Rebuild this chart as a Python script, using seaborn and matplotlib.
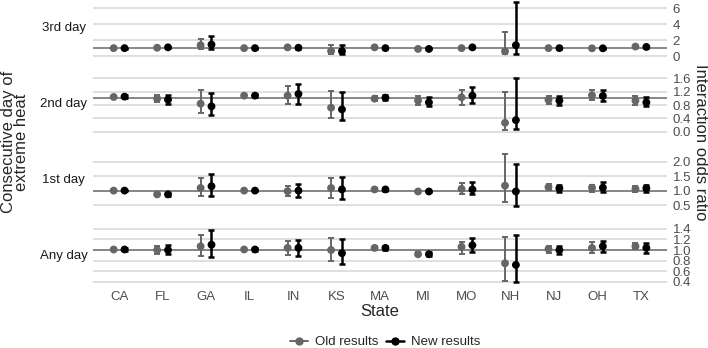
import matplotlib
matplotlib.use("Agg")
import matplotlib.pyplot as plt
from matplotlib.lines import Line2D
import numpy as np
import pandas as pd
import seaborn as sns

states = ["CA", "FL", "GA", "IL", "IN", "KS", "MA", "MI", "MO", "NH", "NJ", "OH", "TX"]
days = ["3rd day", "2nd day", "1st day", "Any day"]

# 3rd day
old_3rd = [1.00, 1.05, 1.37, 1.00, 1.10, 0.64, 1.10, 0.90, 1.00, 0.60, 1.00, 0.98, 1.20]
old_3rd_lo = [0.94, 0.98, 0.95, 0.95, 1.00, 0.30, 1.00, 0.84, 0.90, 0.30, 0.94, 0.92, 1.10]
old_3rd_hi = [1.06, 1.12, 2.20, 1.05, 1.20, 1.37, 1.20, 0.96, 1.10, 3.07, 1.06, 1.04, 1.30]
new_3rd = [1.00, 1.10, 1.45, 1.00, 1.05, 0.62, 1.00, 0.90, 1.10, 1.37, 1.00, 0.98, 1.15]
new_3rd_lo = [0.95, 1.03, 0.85, 0.95, 0.95, 0.25, 0.92, 0.84, 1.00, 0.30, 0.94, 0.92, 1.05]
new_3rd_hi = [1.05, 1.17, 2.50, 1.05, 1.15, 1.35, 1.08, 0.96, 1.20, 6.80, 1.06, 1.04, 1.25]

# 2nd day
old_2nd = [1.04, 0.99, 0.84, 1.08, 1.08, 0.72, 0.99, 0.93, 1.03, 0.27, 0.95, 1.09, 0.93]
old_2nd_lo = [1.00, 0.88, 0.55, 1.04, 0.84, 0.40, 0.93, 0.81, 0.81, 0.05, 0.83, 0.94, 0.81]
old_2nd_hi = [1.08, 1.11, 1.26, 1.12, 1.36, 1.23, 1.06, 1.06, 1.26, 1.19, 1.08, 1.26, 1.06]
new_2nd = [1.05, 0.96, 0.76, 1.08, 1.13, 0.67, 1.02, 0.88, 1.08, 0.35, 0.93, 1.07, 0.88]
new_2nd_lo = [1.01, 0.84, 0.49, 1.04, 0.84, 0.35, 0.94, 0.78, 0.86, 0.08, 0.81, 0.91, 0.78]
new_2nd_hi = [1.09, 1.10, 1.16, 1.12, 1.43, 1.19, 1.10, 1.03, 1.35, 1.60, 1.07, 1.26, 1.03]

# 1st day
old_1st = [1.00, 0.87, 1.09, 1.00, 0.98, 1.09, 1.04, 0.97, 1.06, 1.17, 1.12, 1.10, 1.06]
old_1st_lo = [0.97, 0.84, 0.80, 0.97, 0.80, 0.75, 1.00, 0.94, 0.89, 0.60, 1.02, 0.95, 0.95]
old_1st_hi = [1.03, 0.90, 1.45, 1.03, 1.15, 1.45, 1.08, 1.00, 1.26, 2.25, 1.22, 1.21, 1.17]
new_1st = [1.00, 0.87, 1.15, 1.00, 1.00, 1.04, 1.04, 0.97, 1.04, 0.97, 1.08, 1.10, 1.08]
new_1st_lo = [0.97, 0.83, 0.80, 0.97, 0.77, 0.72, 1.00, 0.94, 0.89, 0.46, 0.95, 0.95, 0.95]
new_1st_hi = [1.03, 0.91, 1.57, 1.03, 1.22, 1.48, 1.08, 1.00, 1.28, 1.91, 1.21, 1.28, 1.20]

# Any day
old_any = [1.01, 1.00, 1.07, 1.01, 1.04, 1.00, 1.04, 0.92, 1.06, 0.75, 1.02, 1.04, 1.07]
old_any_lo = [0.99, 0.93, 0.88, 0.99, 0.91, 0.79, 1.00, 0.88, 0.93, 0.42, 0.95, 0.95, 1.01]
old_any_hi = [1.03, 1.07, 1.29, 1.03, 1.17, 1.23, 1.08, 0.96, 1.15, 1.24, 1.08, 1.15, 1.13]
new_any = [1.01, 1.00, 1.10, 1.01, 1.04, 0.94, 1.04, 0.92, 1.09, 0.72, 1.00, 1.07, 1.04]
new_any_lo = [0.99, 0.92, 0.86, 0.99, 0.89, 0.73, 1.00, 0.88, 0.97, 0.39, 0.93, 0.97, 0.95]
new_any_hi = [1.03, 1.10, 1.37, 1.03, 1.19, 1.20, 1.08, 0.96, 1.22, 1.28, 1.07, 1.17, 1.13]

yticks = {
    "3rd day": [0, 2, 4, 6],
    "2nd day": [0.0, 0.4, 0.8, 1.2, 1.6],
    "1st day": [0.5, 1.0, 1.5, 2.0],
    "Any day": [0.4, 0.6, 0.8, 1.0, 1.2, 1.4],
}
ytick_fmt = {"3rd day": "{:.0f}", "2nd day": "{:.1f}", "1st day": "{:.1f}", "Any day": "{:.1f}"}

series = {
    "3rd day": [(old_3rd, old_3rd_lo, old_3rd_hi), (new_3rd, new_3rd_lo, new_3rd_hi)],
    "2nd day": [(old_2nd, old_2nd_lo, old_2nd_hi), (new_2nd, new_2nd_lo, new_2nd_hi)],
    "1st day": [(old_1st, old_1st_lo, old_1st_hi), (new_1st, new_1st_lo, new_1st_hi)],
    "Any day": [(old_any, old_any_lo, old_any_hi), (new_any, new_any_lo, new_any_hi)],
}
versions = ["Old results", "New results"]
offsets = {"Old results": -0.125, "New results": 0.125}
palette = {"Old results": "#666666", "New results": "#000000"}
lw = {"Old results": 1.4, "New results": 1.8}

rows = []
for day in days:
    for ver, (est, lo, hi) in zip(versions, series[day]):
        for i, st in enumerate(states):
            rows.append(dict(day=day, version=ver, state=st,
                             x=i + offsets[ver], est=est[i], lo=lo[i], hi=hi[i]))
df = pd.DataFrame(rows)

sns.set_theme()
sns.set_style("white")
plt.rcParams["font.family"] = ["Liberation Sans", "DejaVu Sans"]

fig, axes = plt.subplots(4, 1, figsize=(7.08, 3.48), dpi=100, sharex=True)
fig.subplots_adjust(left=93 / 708, right=667 / 708, top=1.0015, bottom=1 - 285 / 348, hspace=0.33)

for ax, day in zip(axes, days):
    sub = df[df.day == day]
    for t in yticks[day]:
        ax.axhline(t, color="#d6d6d6", lw=1.1, zorder=0)
    ax.axhline(1, color="#7f7f7f", lw=1.3, zorder=1)
    for ver in versions:
        s = sub[sub.version == ver]
        ax.errorbar(s.x, s.est, yerr=[s.est - s.lo, s.hi - s.est], fmt="none",
                    ecolor=palette[ver], elinewidth=lw[ver], capsize=2.4,
                    capthick=lw[ver], zorder=2)
    sns.scatterplot(data=sub, x="x", y="est", hue="version", palette=palette,
                    hue_order=versions, s=32, linewidth=0, ax=ax, legend=False, zorder=3)
    lo_all, hi_all = sub.lo.min(), sub.hi.max()
    pad = 0.05 * (hi_all - lo_all)
    ax.set_ylim(lo_all - pad, hi_all + pad)
    ax.set_xlim(-0.6, 12.6)
    ax.yaxis.tick_right()
    ax.set_yticks(yticks[day])
    ax.set_yticklabels([ytick_fmt[day].format(t) for t in yticks[day]], fontsize=9.5, color="#4d4d4d")
    ax.tick_params(axis="y", length=0, pad=4)
    ax.tick_params(axis="x", length=0, pad=4)
    ax.set_ylabel("")
    ax.set_xlabel("")
    ax.grid(False)
    for sp in ax.spines.values():
        sp.set_visible(False)
    ax.text(-0.051, 0.5, day, transform=ax.transAxes, ha="center", va="center", fontsize=9.5, color="#1a1a1a")

axes[-1].set_xticks(range(len(states)))
axes[-1].set_xticklabels(states, fontsize=9.5, color="#4d4d4d")
axes[-1].set_xlabel("State", fontsize=12, labelpad=1)

fig.text(15 / 708, 1 - 142 / 348, "Consecutive day of\nextreme heat", rotation=90,
         ha="center", va="center", fontsize=12, linespacing=0.9)
fig.text(700 / 708, 1 - 142 / 348, "Interaction odds ratio", rotation=270,
         ha="center", va="center", fontsize=12)

handles = [Line2D([0], [0], color=palette[v], lw=lw[v], marker="o", markersize=5) for v in versions]
fig.legend(handles, versions, loc="center", bbox_to_anchor=(385 / 708, 1 - 342 / 348), ncol=2,
           frameon=False, fontsize=9.5, handlelength=1.4, columnspacing=0.6, handletextpad=0.5)

fig.savefig("out.png", dpi=100)
